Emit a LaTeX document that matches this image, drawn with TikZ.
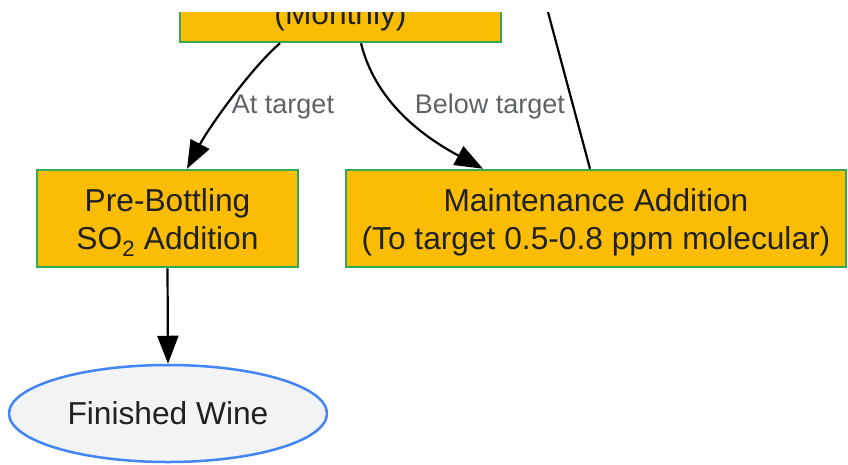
\documentclass[tikz,border=0pt]{standalone}
\usepackage{fontspec}
\setmainfont{Liberation Sans}
\usetikzlibrary{arrows.meta,shapes.geometric}
\definecolor{gyellow}{HTML}{FBBC04}
\definecolor{ggreen}{HTML}{34A853}
\definecolor{gblue}{HTML}{4285F4}
\definecolor{gfill}{HTML}{F1F3F4}
\definecolor{tdark}{HTML}{202124}
\definecolor{tgray}{HTML}{5F6368}
\newcommand{\topstrut}{\rule{0pt}{30.5pt}}
\tikzset{
  procbox/.style={draw=ggreen, fill=gyellow, line width=2.5pt, inner sep=0pt,
    minimum height=97pt, align=center, text=tdark,
    font=\fontsize{31.7}{38}\selectfont},
  endell/.style={ellipse, draw=gblue, fill=gfill, line width=2.5pt, inner sep=0pt,
    minimum width=318pt, minimum height=97pt, text=tdark,
    font=\fontsize{31.7}{38}\selectfont},
  edge/.style={line width=2.2pt, draw=black},
  arr/.style={edge, -{Triangle[length=28pt,width=21pt]}},
  lbl/.style={text=tgray, font=\fontsize{27}{32}\selectfont, inner sep=0pt}
}
\begin{document}
\begin{tikzpicture}[x=1pt,y=-1pt]
\useasboundingbox (0,0) rectangle (848,464);
\fill[white] (0,0) rectangle (848,464);
\begin{scope}
\clip (0,12) rectangle (848,464);
\node[procbox, minimum width=321pt] (top) at (340.5,-6.5) {\topstrut\phantom{(Monthly)}\\(Monthly)};
\node[procbox, minimum width=261pt] (pre) at (167.5,218.5) {\topstrut Pre-Bottling\\SO\textsubscript{2} Addition};
\node[procbox, minimum width=500pt] (maint) at (596,218.5) {\topstrut Maintenance Addition\\(To target 0.5-0.8 ppm molecular)};
\node[endell] (fin) at (168,413.5) {Finished Wine};
\coordinate (up) at (541,-14);
\node[lbl] (lat) at (283,107) {At target};
\node[lbl] (lbt) at (490,107) {Below target};
\draw[arr] ([xshift=-60.5pt]top.south) .. controls (250,69) and (208,129) .. ([xshift=19.5pt]pre.north);
\draw[arr] ([xshift=20.5pt]top.south) .. controls (375,100) and (420,135) .. ([xshift=-113pt]maint.north);
\draw[edge] ([xshift=-6pt]maint.north) -- (up);
\draw[arr] (pre.south) -- (fin.north);
\end{scope}
\end{tikzpicture}
\end{document}
